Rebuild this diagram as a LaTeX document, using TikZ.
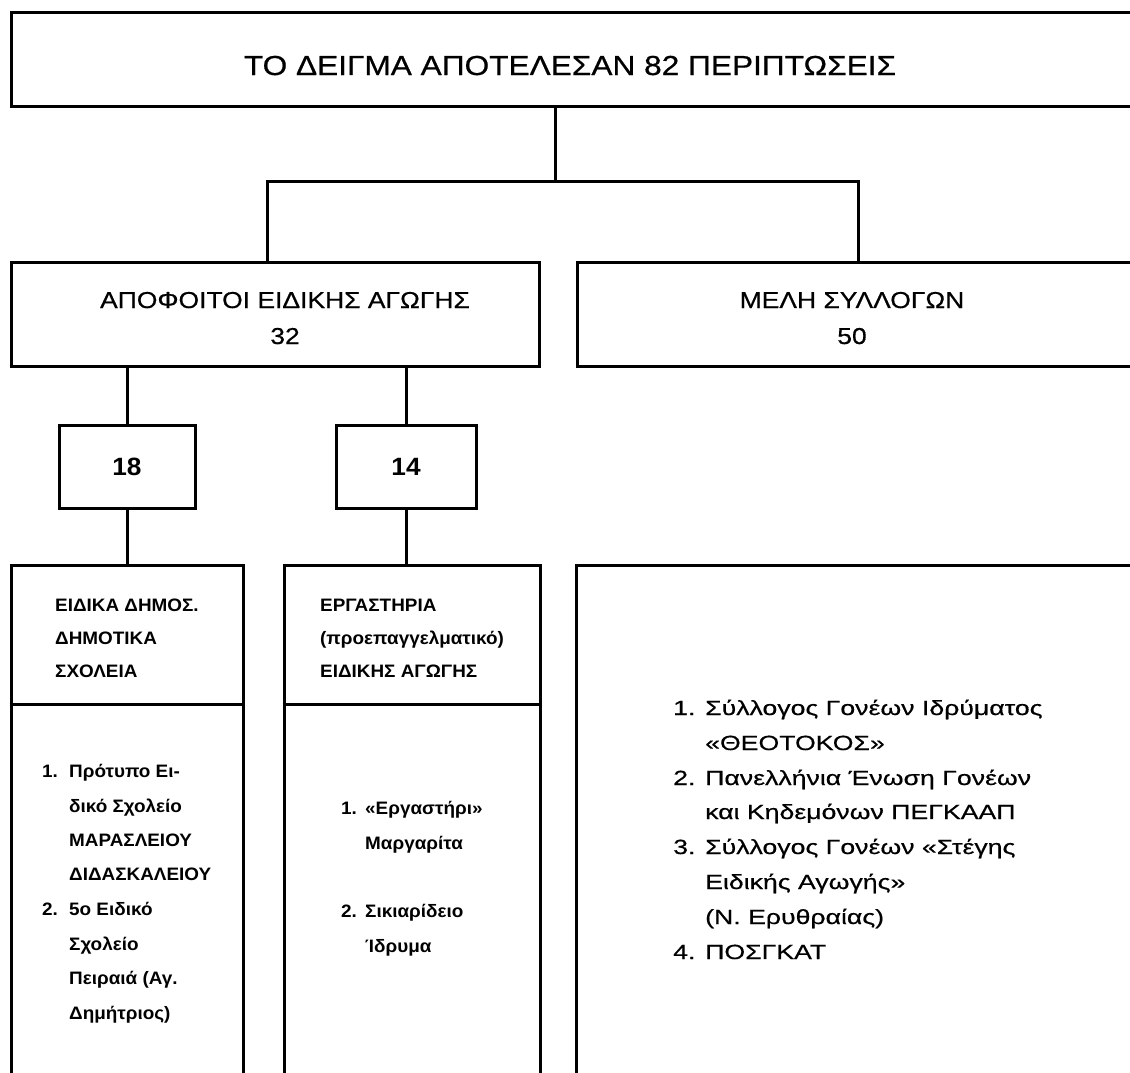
\documentclass[tikz,border=0pt]{standalone}
\usepackage{fontspec}
\setmainfont{Liberation Sans}
\newfontfamily\fw[FakeStretch=1.15,FakeBold=0.6]{Liberation Sans}
\newfontfamily\fr[FakeStretch=1.3,FakeBold=0.5]{Liberation Sans}
\newfontfamily\fb[FakeStretch=1.05]{Liberation Sans}
\begin{document}
\begin{tikzpicture}[x=1pt,y=-1pt,
  box/.style={draw,line width=3pt,rectangle,inner sep=0pt},
  conn/.style={line width=3pt},
  lbl/.style={inner sep=0pt,anchor=base west},
  sl/.style={lbl,font=\fb\bfseries\fontsize{18}{20}\selectfont},
  sr/.style={lbl,font=\fr\fontsize{20.5}{23}\selectfont},
  sh/.style={lbl,anchor=base,font=\fw\fontsize{23}{26}\selectfont}]
\useasboundingbox (0,0) rectangle (1130,1073);
\clip (0,0) rectangle (1130,1073);
% boxes
\node[box,minimum width=1139pt,minimum height=93pt] (top) at (580.5,59.5) {};
\node[box,minimum width=528pt,minimum height=104pt] (A) at (275,314) {};
\node[box,minimum width=573pt,minimum height=104pt] (B) at (863.5,314) {};
\node[box,minimum width=136pt,minimum height=83pt,font=\fb\bfseries\fontsize{25}{28}\selectfont] (n18) at (127,466.5) {18};
\node[box,minimum width=140pt,minimum height=83pt,font=\fb\bfseries\fontsize{25}{28}\selectfont] (n14) at (406,466.5) {14};
\node[box,minimum width=232pt,minimum height=525pt] (C) at (127,827.5) {};
\node[box,minimum width=256pt,minimum height=525pt] (D) at (412,827.5) {};
\node[box,minimum width=574pt,minimum height=525pt] (E) at (863,827.5) {};
\draw[conn] ([yshift=-141pt]C.north west) -- ([yshift=-141pt]C.north east);
\draw[conn] ([yshift=-141pt]D.north west) -- ([yshift=-141pt]D.north east);
% connectors
\coordinate (j) at (555,181);
\coordinate (jA) at (267,181);
\coordinate (jB) at (858,181);
\draw[conn] (top.south -| j) -- (j);
\draw[conn] (A.north -| jA) -- (jA) -- (jB) -- (B.north -| jB);
\draw[conn] (A.south -| n18) -- (n18.north);
\draw[conn] (n18.south) -- (C.north -| n18);
\draw[conn] (A.south -| n14) -- (n14.north);
\draw[conn] (n14.south) -- (D.north -| n14);
% texts
\node[lbl,anchor=base,font=\fw\fontsize{27.5}{30}\selectfont] (ttop) at (570,75) {ΤΟ ΔΕΙΓΜΑ ΑΠΟΤΕΛΕΣΑΝ 82 ΠΕΡΙΠΤΩΣΕΙΣ};
\node[sh] (tA) at (285,308) {ΑΠΟΦΟΙΤΟΙ ΕΙΔΙΚΗΣ ΑΓΩΓΗΣ};
\node[sh] (tA2) at (285,344) {32};
\node[sh] (tB) at (852,308) {ΜΕΛΗ ΣΥΛΛΟΓΩΝ};
\node[sh] (tB2) at (852,344) {50};
% left column
\node[sl] (c1) at (55,611) {ΕΙΔΙΚΑ ΔΗΜΟΣ.};
\node[sl] (c2) at (55,644) {ΔΗΜΟΤΙΚΑ};
\node[sl] (c3) at (55,677) {ΣΧΟΛΕΙΑ};
\node[sl] (cn1) at (42,777) {1.};
\node[sl] (cl1) at (69,777) {Πρότυπο Ει-};
\node[sl] (cl2) at (69,812) {δικό Σχολείο};
\node[sl] (cl3) at (69,846) {ΜΑΡΑΣΛΕΙΟΥ};
\node[sl] (cl4) at (69,880) {ΔΙΔΑΣΚΑΛΕΙΟΥ};
\node[sl] (cn2) at (42,915) {2.};
\node[sl] (cl5) at (69,915) {5ο Ειδικό};
\node[sl] (cl6) at (69,950) {Σχολείο};
\node[sl] (cl7) at (69,984) {Πειραιά (Αγ.};
\node[sl] (cl8) at (69,1019) {Δημήτριος)};
% middle column
\node[sl] (d1) at (320,611) {ΕΡΓΑΣΤΗΡΙΑ};
\node[sl] (d2) at (320,644) {(προεπαγγελματικό)};
\node[sl] (d3) at (320,677) {ΕΙΔΙΚΗΣ ΑΓΩΓΗΣ};
\node[sl] (dn1) at (341,814) {1.};
\node[sl] (dl1) at (365,814) {«Εργαστήρι»};
\node[sl] (dl2) at (365,849) {Μαργαρίτα};
\node[sl] (dn2) at (341,917) {2.};
\node[sl] (dl3) at (365,917) {Σικιαρίδειο};
\node[sl] (dl4) at (365,952) {Ίδρυμα};
% right column
\node[sr] (en1) at (673,715) {1.};
\node[sr] (el1) at (705,715) {Σύλλογος Γονέων Ιδρύματος};
\node[sr] (el2) at (705,750) {«ΘΕΟΤΟΚΟΣ»};
\node[sr] (en2) at (673,785) {2.};
\node[sr] (el3) at (705,785) {Πανελλήνια Ένωση Γονέων};
\node[sr] (el4) at (705,819) {και Κηδεμόνων ΠΕΓΚΑΑΠ};
\node[sr] (en3) at (673,854) {3.};
\node[sr] (el5) at (705,854) {Σύλλογος Γονέων «Στέγης};
\node[sr] (el6) at (705,889) {Ειδικής Αγωγής»};
\node[sr] (el7) at (705,924) {(Ν. Ερυθραίας)};
\node[sr] (en4) at (673,959) {4.};
\node[sr] (el8) at (705,959) {ΠΟΣΓΚΑΤ};
\end{tikzpicture}
\end{document}
